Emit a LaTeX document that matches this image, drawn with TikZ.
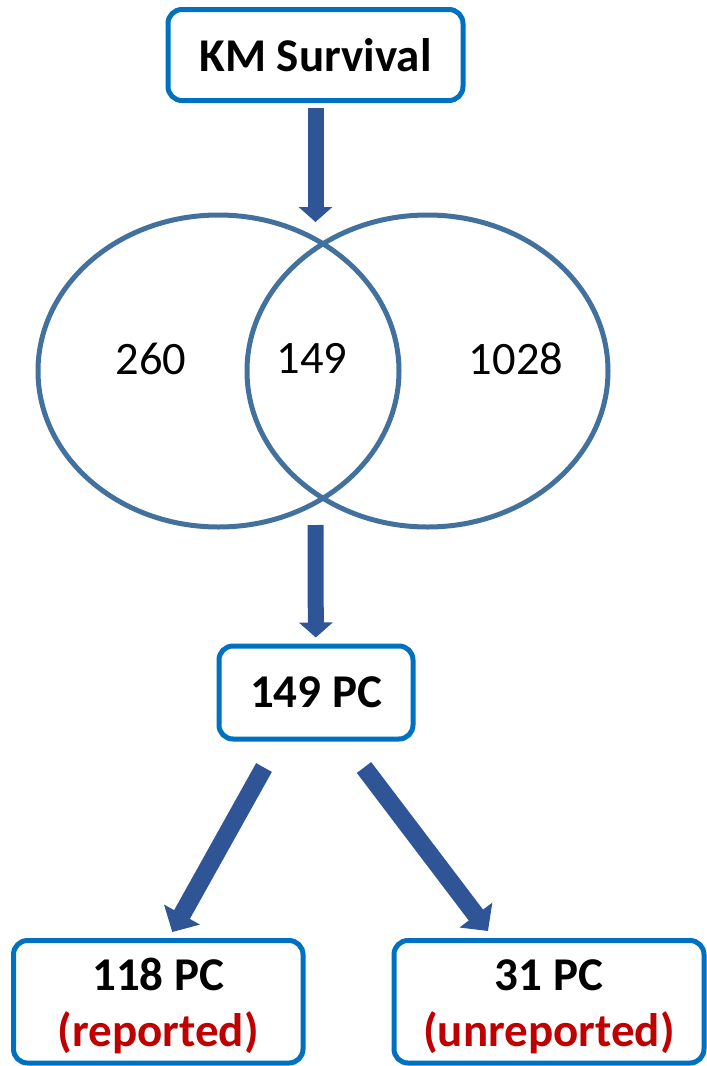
\documentclass[tikz,border=0pt]{standalone}
\usepackage{xcolor}
\usepackage{tikz}
\usepackage{fontspec}
\setmainfont{Carlito}
\usetikzlibrary{positioning}
\usetikzlibrary{shapes.geometric,arrows.meta}
\definecolor{boxblue}{HTML}{0070C0}
\definecolor{setblue}{HTML}{41719C}
\definecolor{arrowblue}{HTML}{2F5597}
\definecolor{repred}{HTML}{C00000}

\begin{document}
\begin{tikzpicture}
                [x=1pt, y=-1pt,
                 box/.style = {draw=boxblue, line width=5pt, rounded corners=14pt, fill=white, align=center, inner sep=0pt, font=\bfseries\fontsize{47}{56}\selectfont},
                 set/.style = {ellipse, draw=setblue, line width=5pt, minimum width=361pt, minimum height=312pt, inner sep=0pt},
                 num/.style = {font=\fontsize{46.5}{56}\selectfont},
                 flow/.style = {color=arrowblue, line width=16pt, -{Triangle[width=33pt,length=15pt]}},
                 fork/.style = {color=arrowblue, line width=18pt, -{Triangle[width=40pt,length=20pt]}}]
                \useasboundingbox (0,0) rectangle (707,1066);
                % Boxes
                \node[box, minimum width=295pt, minimum height=91pt] (km) at (315.5,55) {KM Survival};
                \node[box, minimum width=194pt, minimum height=93pt] (mid) at (316,692.5) {149 PC};
                \node[box, minimum width=289.5pt, minimum height=122.5pt] (rep) at (158.25,1001.75) {\rule{0pt}{40pt}118 PC\\\textcolor{repred}{(reported)}};
                \node[box, minimum width=310pt, minimum height=122.5pt] (unrep) at (549,1001.75) {\rule{0pt}{40pt}31 PC\\\textcolor{repred}{(unreported)}};
                % Venn sets
                \node[set] (lset) at (218.5,371) {};
                \node[set] (rset) at (427.5,371) {};
                % Counts
                \node[num] (n260) at (151,358.5) {260};
                \node[num] (n149) at (312,358.5) {149};
                \node[num] (n1028) at (516,358.5) {1028};
                % Arrow ends at the sets
                \coordinate (vtop) at (315.5,222);
                \coordinate (vbot) at (315.5,525);
                % Arrows
                \draw[flow, shorten <=5pt] (km) -- (vtop);
                \draw[flow, shorten >=6pt] (vbot) -- (mid);
                \draw[fork] ([xshift=-52pt,yshift=-26pt]mid.south) -- ([xshift=14pt,yshift=6pt]rep.north);
                \draw[fork] ([xshift=48pt,yshift=-26pt]mid.south) -- ([xshift=-61pt,yshift=7pt]unrep.north);
            \end{tikzpicture}
\end{document}
